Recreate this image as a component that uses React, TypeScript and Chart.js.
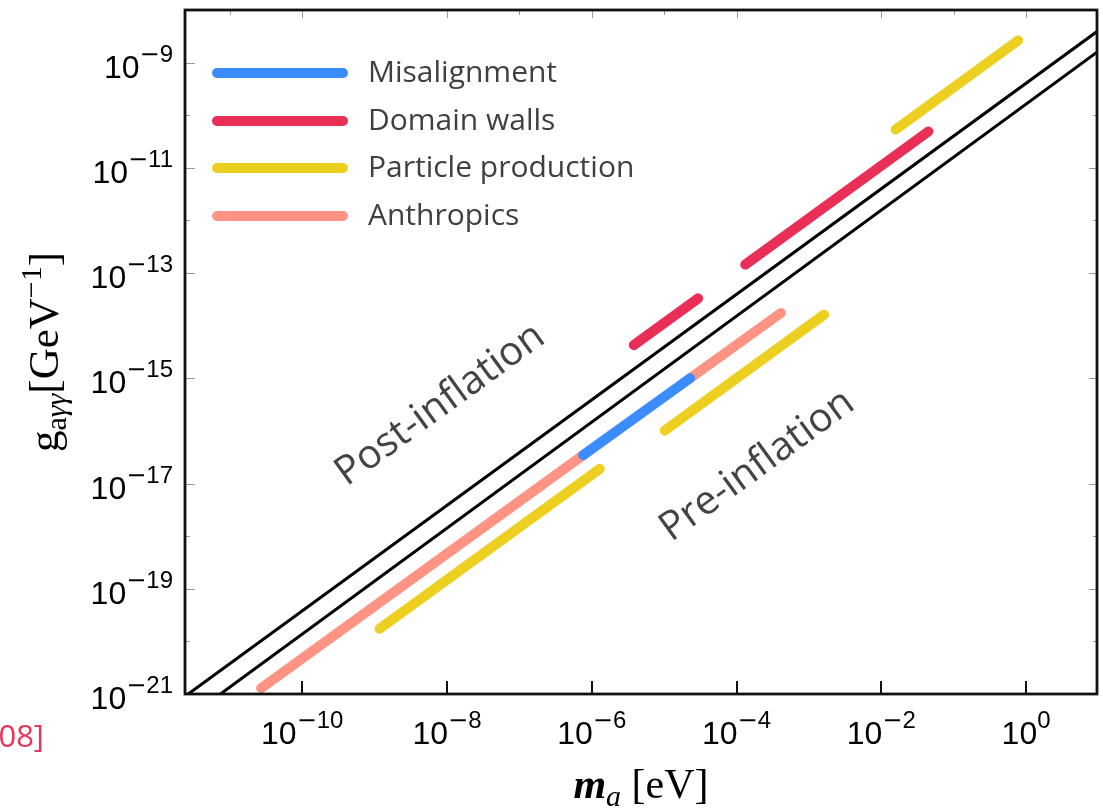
import React, { useEffect, useRef } from "react";
import { Chart, registerables } from "chart.js";

Chart.register(...registerables);

// Axis ranges
const X_MIN = 2.4e-12;
const X_MAX = 9.55;
const Y_MIN = 1e-21;
const Y_MAX = 1e-8;

// Tick exponents
const xLabelExps = [-10, -8, -6, -4, -2, 0];
const xTopTickExps = [-11, -10, -8, -7, -6, -5, -4, -2, -1, 0];
const yLabelExps = [-9, -11, -13, -15, -17, -19, -21];
const yLeftTickExps = [-9, -10, -11, -12, -13, -15, -17, -18, -19, -20];
const yRightTickExps = [-10, -11, -12, -13, -15, -17, -18, -19, -20];

// Diagonal boundary lines (mass in eV, coupling in GeV^-1)
const upperBoundaryMass = [2.66e-12, 9.55];
const upperBoundaryCoupling = [1e-21, 3.89e-9];
const lowerBoundaryMass = [7.41e-12, 9.55];
const lowerBoundaryCoupling = [1e-21, 1.585e-9];

// Mechanisms (null separates segments)
const anthropicsMass = [2.7e-11, 7.6e-7, null, 2.28e-5, 4.1e-4];
const anthropicsCoupling = [1.29e-21, 3.47e-17, null, 1.0e-15, 1.74e-14];
const misalignmentMass = [7.6e-7, 2.28e-5];
const misalignmentCoupling = [3.47e-17, 1.0e-15];
const particleMass = [1.17e-9, 1.29e-6, null, 1.02e-5, 1.62e-3, null, 1.58e-2, 0.776];
const particleCoupling = [1.74e-20, 1.9e-17, null, 1.02e-16, 1.62e-14, null, 5.37e-11, 2.63e-9];
const domainWallMass = [3.8e-6, 2.95e-5, null, 1.32e-4, 4.47e-2];
const domainWallCoupling = [4.27e-15, 3.31e-14, null, 1.45e-13, 4.9e-11];

const legendLabels = ["Misalignment", "Domain walls", "Particle production", "Anthropics"];
const legendColors = ["#3a8cff", "#ea2f57", "#eccf1f", "#ff9484"];

const COLOR_BLUE = "#3a8cff";
const COLOR_RED = "#ea2f57";
const COLOR_YELLOW = "#eccf1f";
const COLOR_SALMON = "#ff9484";

function toPoints(mass: (number | null)[], coup: (number | null)[]) {
  return mass.map((m, i) => {
    if (m === null || coup[i] === null) {
      return { x: (mass[i - 1] as number) ?? X_MIN, y: null };
    }
    return { x: m, y: coup[i] };
  });
}

type Part = { t: string; font: string; dy: number };

function drawRich(ctx: CanvasRenderingContext2D, parts: Part[], x: number, y: number, align: "center" | "right" | "left") {
  let total = 0;
  const widths: number[] = [];
  for (const p of parts) {
    ctx.font = p.font;
    const w = ctx.measureText(p.t).width;
    widths.push(w);
    total += w;
  }
  let cx = align === "center" ? x - total / 2 : align === "right" ? x - total : x;
  ctx.textAlign = "left";
  ctx.textBaseline = "alphabetic";
  parts.forEach((p, i) => {
    ctx.font = p.font;
    ctx.fillText(p.t, cx, y + p.dy);
    cx += widths[i];
  });
}

function powParts(exp: number): Part[] {
  const parts: Part[] = [{ t: "10", font: "32px 'Liberation Sans'", dy: 0 }];
  if (exp < 0) parts.push({ t: "\u2212", font: "24px 'DejaVu Sans'", dy: -16 });
  parts.push({ t: String(Math.abs(exp)), font: "24px 'Liberation Sans'", dy: -16 });
  return parts;
}

const decorPlugin = {
  id: "decor",
  afterDraw(chart: any) {
    const ctx: CanvasRenderingContext2D = chart.ctx;
    const { left, right, top, bottom } = chart.chartArea;
    const xs = chart.scales.x;
    const ys = chart.scales.y;
    ctx.save();

    // ticks
    ctx.strokeStyle = "#999";
    ctx.lineWidth = 1;
    for (const e of xTopTickExps) {
      const px = Math.round(xs.getPixelForValue(Math.pow(10, e))) + 0.5;
      const len = e % 2 === 0 ? 8 : 5;
      ctx.beginPath();
      ctx.moveTo(px, top);
      ctx.lineTo(px, top + len);
      ctx.stroke();
    }
    for (const e of yLeftTickExps) {
      const py = Math.round(ys.getPixelForValue(Math.pow(10, e))) + 0.5;
      const len = e % 2 !== 0 ? 10 : 5;
      ctx.beginPath();
      ctx.moveTo(left, py);
      ctx.lineTo(left + len, py);
      ctx.stroke();
    }
    for (const e of yRightTickExps) {
      const py = Math.round(ys.getPixelForValue(Math.pow(10, e))) + 0.5;
      const len = e % 2 !== 0 ? 8 : 4;
      ctx.beginPath();
      ctx.moveTo(right, py);
      ctx.lineTo(right - len, py);
      ctx.stroke();
    }
    ctx.strokeStyle = "#111";
    ctx.lineWidth = 2;
    for (const e of xLabelExps) {
      const px = Math.round(xs.getPixelForValue(Math.pow(10, e)));
      ctx.beginPath();
      ctx.moveTo(px, bottom);
      ctx.lineTo(px, bottom - 13);
      ctx.stroke();
    }

    // frame
    ctx.strokeStyle = "#111";
    ctx.lineWidth = 2.8;
    ctx.strokeRect(left, top, right - left, bottom - top);

    // tick labels
    ctx.fillStyle = "#000";
    for (const e of xLabelExps) {
      const px = xs.getPixelForValue(Math.pow(10, e));
      drawRich(ctx, powParts(e), px, bottom + 50, "center");
    }
    for (const e of yLabelExps) {
      const py = ys.getPixelForValue(Math.pow(10, e));
      drawRich(ctx, powParts(e), left - 12, py + 15, "right");
    }

    // axis titles
    drawRich(
      ctx,
      [
        { t: "m", font: "italic bold 42px 'Liberation Serif'", dy: 0 },
        { t: "a", font: "italic 30px 'Liberation Serif'", dy: 8 },
        { t: " [eV]", font: "42px 'Liberation Serif'", dy: 0 },
      ],
      (left + right) / 2,
      798,
      "center"
    );
    ctx.save();
    ctx.translate(58, (top + bottom) / 2);
    ctx.rotate(-Math.PI / 2);
    drawRich(
      ctx,
      [
        { t: "g", font: "43px 'Liberation Serif'", dy: 0 },
        { t: "a", font: "30px 'Liberation Serif'", dy: 8 },
        { t: "\u03b3\u03b3", font: "italic 30px 'Liberation Serif'", dy: 8 },
        { t: "[GeV", font: "43px 'Liberation Serif'", dy: 0 },
        { t: "\u22121", font: "30px 'Liberation Serif'", dy: -17 },
        { t: "]", font: "43px 'Liberation Serif'", dy: 0 },
      ],
      0,
      0,
      "center"
    );
    ctx.restore();

    // legend
    const legendY = [73, 121, 168, 216];
    legendLabels.forEach((lab, i) => {
      ctx.strokeStyle = legendColors[i];
      ctx.lineWidth = 10;
      ctx.lineCap = "round";
      ctx.beginPath();
      ctx.moveTo(217, legendY[i]);
      ctx.lineTo(343, legendY[i]);
      ctx.stroke();
      ctx.fillStyle = "#404040";
      ctx.font = "30px 'Open Sans'";
      ctx.textAlign = "left";
      ctx.textBaseline = "middle";
      ctx.fillText(lab, 368, legendY[i]);
    });

    // region annotations
    const ang = -36 * Math.PI / 180;
    ctx.fillStyle = "#444";
    ctx.font = "40px 'Open Sans'";
    ctx.textAlign = "center";
    ctx.textBaseline = "alphabetic";
    ctx.save();
    ctx.translate(447, 414);
    ctx.rotate(ang);
    ctx.fillText("Post-inflation", 0, 0);
    ctx.restore();
    ctx.save();
    ctx.translate(764, 475);
    ctx.rotate(ang);
    ctx.fillText("Pre-inflation", 0, 0);
    ctx.restore();

    // cropped reference fragment
    ctx.fillStyle = "#e8345f";
    ctx.font = "31px 'Open Sans'";
    ctx.textAlign = "right";
    ctx.textBaseline = "alphabetic";
    ctx.fillText("08]", 44, 747);

    ctx.restore();
  },
};

export default function App() {
  const ref = useRef<HTMLCanvasElement>(null);
  useEffect(() => {
    if (!ref.current) return;
    const seg = (data: any, color: string, width: number, order: number) => ({
      data,
      borderColor: color,
      backgroundColor: color,
      borderWidth: width,
      borderCapStyle: "round",
      pointRadius: 0,
      pointHoverRadius: 0,
      tension: 0,
      spanGaps: false,
      fill: false,
      clip: 0,
      order,
    });
    const chart = new Chart(ref.current, {
      type: "line",
      data: {
        datasets: [
          seg(toPoints(upperBoundaryMass, upperBoundaryCoupling), "#000", 3, 6),
          seg(toPoints(lowerBoundaryMass, lowerBoundaryCoupling), "#000", 3, 6),
          seg(toPoints(anthropicsMass, anthropicsCoupling), COLOR_SALMON, 10, 5),
          seg(toPoints(misalignmentMass, misalignmentCoupling), COLOR_BLUE, 10, 4),
          seg(toPoints(particleMass, particleCoupling), COLOR_YELLOW, 10, 3),
          seg(toPoints(domainWallMass, domainWallCoupling), COLOR_RED, 10, 2),
        ] as any,
      },
      options: {
        animation: false,
        responsive: false,
        events: [],
        layout: { padding: { left: 185, top: 10, right: 6, bottom: 115 } },
        plugins: { legend: { display: false }, tooltip: { enabled: false } },
        scales: {
          x: { type: "logarithmic", min: X_MIN, max: X_MAX, display: false },
          y: { type: "logarithmic", min: Y_MIN, max: Y_MAX, display: false },
        },
      } as any,
      plugins: [decorPlugin],
    });
    return () => chart.destroy();
  }, []);
  return (
    <div style={{ position: "fixed", left: 0, top: 0, width: 1103, height: 809, background: "#fff" }}>
      <canvas ref={ref} width={1103} height={809} style={{ display: "block", width: 1103, height: 809 }} />
    </div>
  );
}
